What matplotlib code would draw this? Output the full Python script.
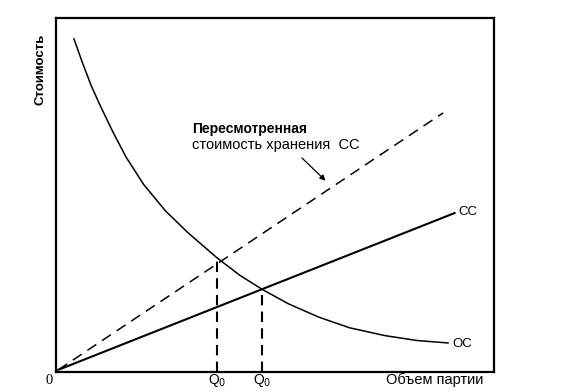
import matplotlib
matplotlib.use("Agg")
import matplotlib.pyplot as plt

# Data (axis units 0..100)
oc_x = [4.1, 6.0, 8.0, 10.0, 13.0, 16.0, 20.0, 25.0, 30.0, 36.8, 42.0, 47.0,
        53.0, 60.0, 67.0, 75.0, 82.4, 89.5]
oc_y = [94.1, 87.5, 81.0, 75.5, 67.8, 60.7, 53.0, 45.5, 39.5, 32.2, 27.3, 23.4,
        19.3, 15.5, 12.5, 10.3, 8.9, 8.2]
cc_x = [0.5, 91.0]
cc_y = [0.6, 44.9]
cc_rev_x = [0.5, 88.4]
cc_rev_y = [0.6, 73.2]
q_x = [36.8, 47.0]
q_y = [32.2, 23.4]
q_labels = ["Q$_0$", "Q$_0$"]

plt.rcParams['font.family'] = ['Liberation Sans', 'DejaVu Sans']

fig = plt.figure(figsize=(5.64, 3.92), dpi=100)
W, H = 564, 392
ax = fig.add_axes([56 / W, (H - 372) / H, (494 - 56) / W, (372 - 18) / H])
ax.set_xlim(0, 100)
ax.set_ylim(0, 100)
ax.set_xticks([])
ax.set_yticks([])
for s in ax.spines.values():
    s.set_linewidth(1.6)
    s.set_color('black')

ax.plot(oc_x, oc_y, color='black', lw=1.1, solid_joinstyle='round')
ax.plot(cc_x, cc_y, color='black', lw=1.5)
ax.plot(cc_rev_x, cc_rev_y, color='black', lw=1.1, dashes=(7, 4.5))
for qx, qy, lab in zip(q_x, q_y, q_labels):
    ax.plot([qx, qx], [0, qy], color='black', lw=1.5, dashes=(5, 3))
    ax.text(qx, -3.4, lab, ha='center', va='baseline', fontsize=10, clip_on=False)

ax.text(cc_x[-1] + 0.8, cc_y[-1] + 0.4, "CC", ha='left', va='center', fontsize=9.5)
ax.text(oc_x[-1] + 1.0, oc_y[-1] - 0.2, "OC", ha='left', va='center', fontsize=9.5)
ax.text(-0.8, -0.6, "0", ha='right', va='top', fontsize=10.5,
        family=['Liberation Serif'], clip_on=False)

ax.text(31.0, 67.4, "Пересмотренная", ha='left', va='baseline', fontsize=10,
        fontweight='bold')
ax.text(31.0, 63.0, "стоимость хранения  CC", ha='left', va='baseline', fontsize=10.5)
ax.annotate("", xy=(62.0, 53.5), xytext=(55.7, 61.0),
            arrowprops=dict(arrowstyle='-|>', color='black', lw=0.9,
                            mutation_scale=8))

ax.text(97.5, -3.4, "Объем партии", ha='right', va='baseline', fontsize=10.5,
        clip_on=False)
fig.text(40 / W, 1 - 69 / H, "Стоимость", rotation=90, ha='center', va='center',
         fontsize=9.5, fontweight='bold')

fig.savefig("out.png", dpi=100)
